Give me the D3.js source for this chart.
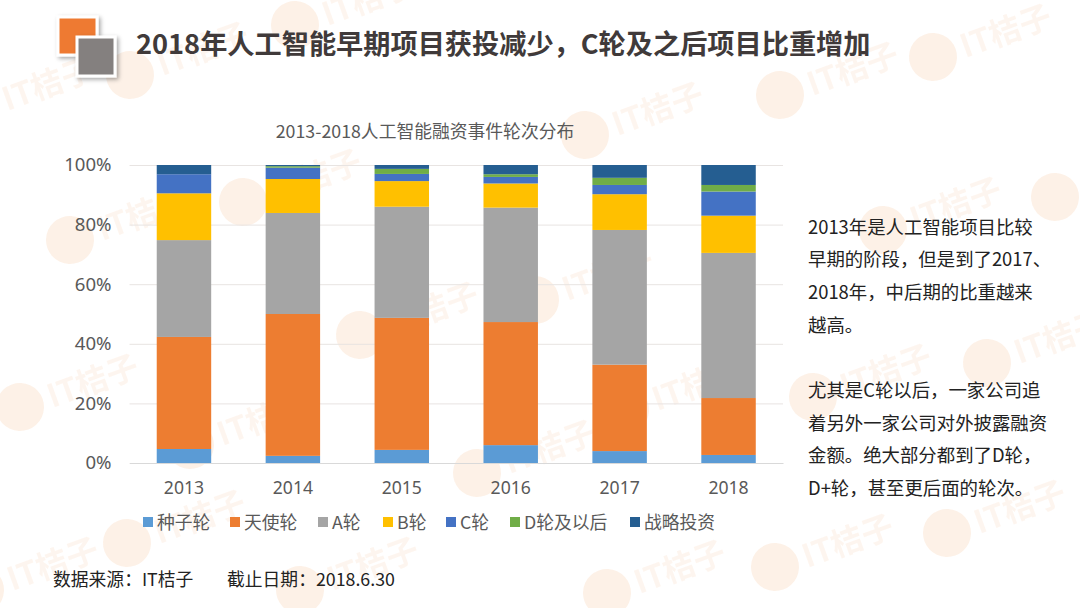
<!DOCTYPE html>
<html><head><meta charset="utf-8">
<script src="https://cdn.jsdelivr.net/npm/d3@7"></script>
<style>
html,body{margin:0;padding:0;background:#fff;}
svg{display:block;font-family:"Noto Sans CJK SC","Noto Sans",sans-serif;}
</style></head><body>
<svg id="c" width="1080" height="608"></svg>
<script>
const years=["2013","2014","2015","2016","2017","2018"];
const seriesNames=["种子轮","天使轮","A轮","B轮","C轮","D轮及以后","战略投资"];
const seriesColors=["#5b9bd5","#ed7d31","#a5a5a5","#ffc000","#4472c4","#70ad47","#255e91"];
const seed=[4.7,2.4,4.4,6.0,4.0,2.7];
const angel=[37.6,47.6,44.3,41.3,29.0,19.1];
const roundA=[32.5,33.9,37.3,38.4,45.2,48.7];
const roundB=[15.7,11.4,8.6,8.1,12.0,12.5];
const roundC=[6.4,3.8,2.4,2.2,3.1,8.1];
const roundD=[0,0.5,1.7,0.9,2.4,2.2];
const strategic=[3.1,0.4,1.3,3.1,4.3,6.7];
const yTicks=[0,20,40,60,80,100];
const noteLines=["2013年是人工智能项目比较","早期的阶段，但是到了2017、","2018年，中后期的比重越来","越高。","","尤其是C轮以后，一家公司追","着另外一家公司对外披露融资","金额。绝大部分都到了D轮，","D+轮，甚至更后面的轮次。"];
const watermarkSpots=[[295,25],[130,75],[-25,110],[780,95],[933,57],[243,202],[70,240],[585,135],[1055,197],[883,230],[360,335],[535,300],[20,407],[625,410],[190,445],[477,473],[987,363],[813,397],[947,533],[775,567],[127,543],[-20,590],[607,593],[300,590]];

const svg=d3.select("#c");

// watermarks
const wm=svg.append("g").style("pointer-events","none");
watermarkSpots.forEach(([cx,cy])=>{
  const g=wm.append("g").attr("transform",`translate(${cx},${cy}) rotate(-20)`);
  g.append("circle").attr("r",24).attr("fill","#f08a3c").attr("opacity",0.12);
  g.append("text").attr("x",30).attr("y",12).attr("font-size",32).attr("font-weight",700).attr("fill","#f08a3c").attr("opacity",0.08).text("IT桔子");
});

// header icon
const defs=svg.append("defs");
const f=defs.append("filter").attr("id","sh").attr("x","-20%").attr("y","-20%").attr("width","150%").attr("height","150%");
f.append("feDropShadow").attr("dx",2).attr("dy",2).attr("stdDeviation",2).attr("flood-color","#000").attr("flood-opacity",0.35);
svg.append("rect").attr("x",58).attr("y",17).attr("width",39).attr("height",38).attr("fill","#ee7a30").attr("stroke","#fff").attr("stroke-width",3).attr("filter","url(#sh)");
svg.append("rect").attr("x",77).attr("y",37).attr("width",38).attr("height",39).attr("fill","#84807f").attr("stroke","#fff").attr("stroke-width",3).attr("filter","url(#sh)");
svg.append("text").attr("x",136).attr("y",54).attr("font-size",27.2).attr("font-weight",700).attr("fill","#403a3a")
  .text("2018年人工智能早期项目获投减少，C轮及之后项目比重增加");

// chart
const x=d3.scaleBand().domain(years).range([129.5,783]).paddingInner(0.5).paddingOuter(0.25);
const y=d3.scaleLinear().domain([0,100]).range([463,165]);
svg.append("text").attr("x",425).attr("y",138).attr("text-anchor","middle").attr("font-size",17.8).attr("fill","#595959").text("2013-2018人工智能融资事件轮次分布");

const gy=svg.append("g").attr("transform","translate(129.5,0)")
  .call(d3.axisLeft(y).tickValues(yTicks).tickFormat(d=>d+"%").tickSize(-653.5).tickPadding(18));
gy.select(".domain").remove();
gy.selectAll("line").attr("stroke","#e8e4e2").attr("stroke-width",1);
gy.selectAll("text").attr("font-size",18.6).attr("fill","#595959").attr("font-family",'"Noto Sans","Noto Sans CJK SC",sans-serif');

const table=years.map((yr,i)=>({year:yr,0:seed[i],1:angel[i],2:roundA[i],3:roundB[i],4:roundC[i],5:roundD[i],6:strategic[i]}));
const stacked=d3.stack().keys([0,1,2,3,4,5,6])(table);
svg.append("g").selectAll("g").data(stacked).join("g").attr("fill",(d,i)=>seriesColors[i])
 .selectAll("rect").data(d=>d).join("rect")
 .attr("x",d=>x(d.data.year)).attr("width",x.bandwidth())
 .attr("y",d=>y(d[1])).attr("height",d=>y(d[0])-y(d[1]));

const gx=svg.append("g").attr("transform","translate(0,463)")
  .call(d3.axisBottom(x).tickSize(0).tickPadding(19));
gx.select(".domain").attr("stroke","#d9d9d9");
gx.selectAll("text").attr("font-size",17.6).attr("fill","#595959").attr("font-family",'"Noto Sans","Noto Sans CJK SC",sans-serif');

// legend
const legendX=[143,230,318,383,446,510,630];
const lg=svg.append("g").selectAll("g").data(seriesNames).join("g").attr("transform",(d,i)=>`translate(${legendX[i]},517)`);
lg.append("rect").attr("width",10).attr("height",10).attr("fill",(d,i)=>seriesColors[i]);
lg.append("text").attr("x",14).attr("y",11.5).attr("font-size",17.8).attr("fill","#595959").text(d=>d);

// note
svg.append("g").selectAll("text").data(noteLines).join("text")
 .attr("x",808).attr("y",(d,i)=>233.5+i*32.7).attr("font-size",18.4).attr("fill","#222").text(d=>d);
// source
svg.append("text").attr("x",53).attr("y",586).attr("font-size",17.8).attr("fill","#222").text("数据来源：IT桔子");
svg.append("text").attr("x",227).attr("y",586).attr("font-size",17.8).attr("fill","#222").text("截止日期：2018.6.30");
</script></body></html>
